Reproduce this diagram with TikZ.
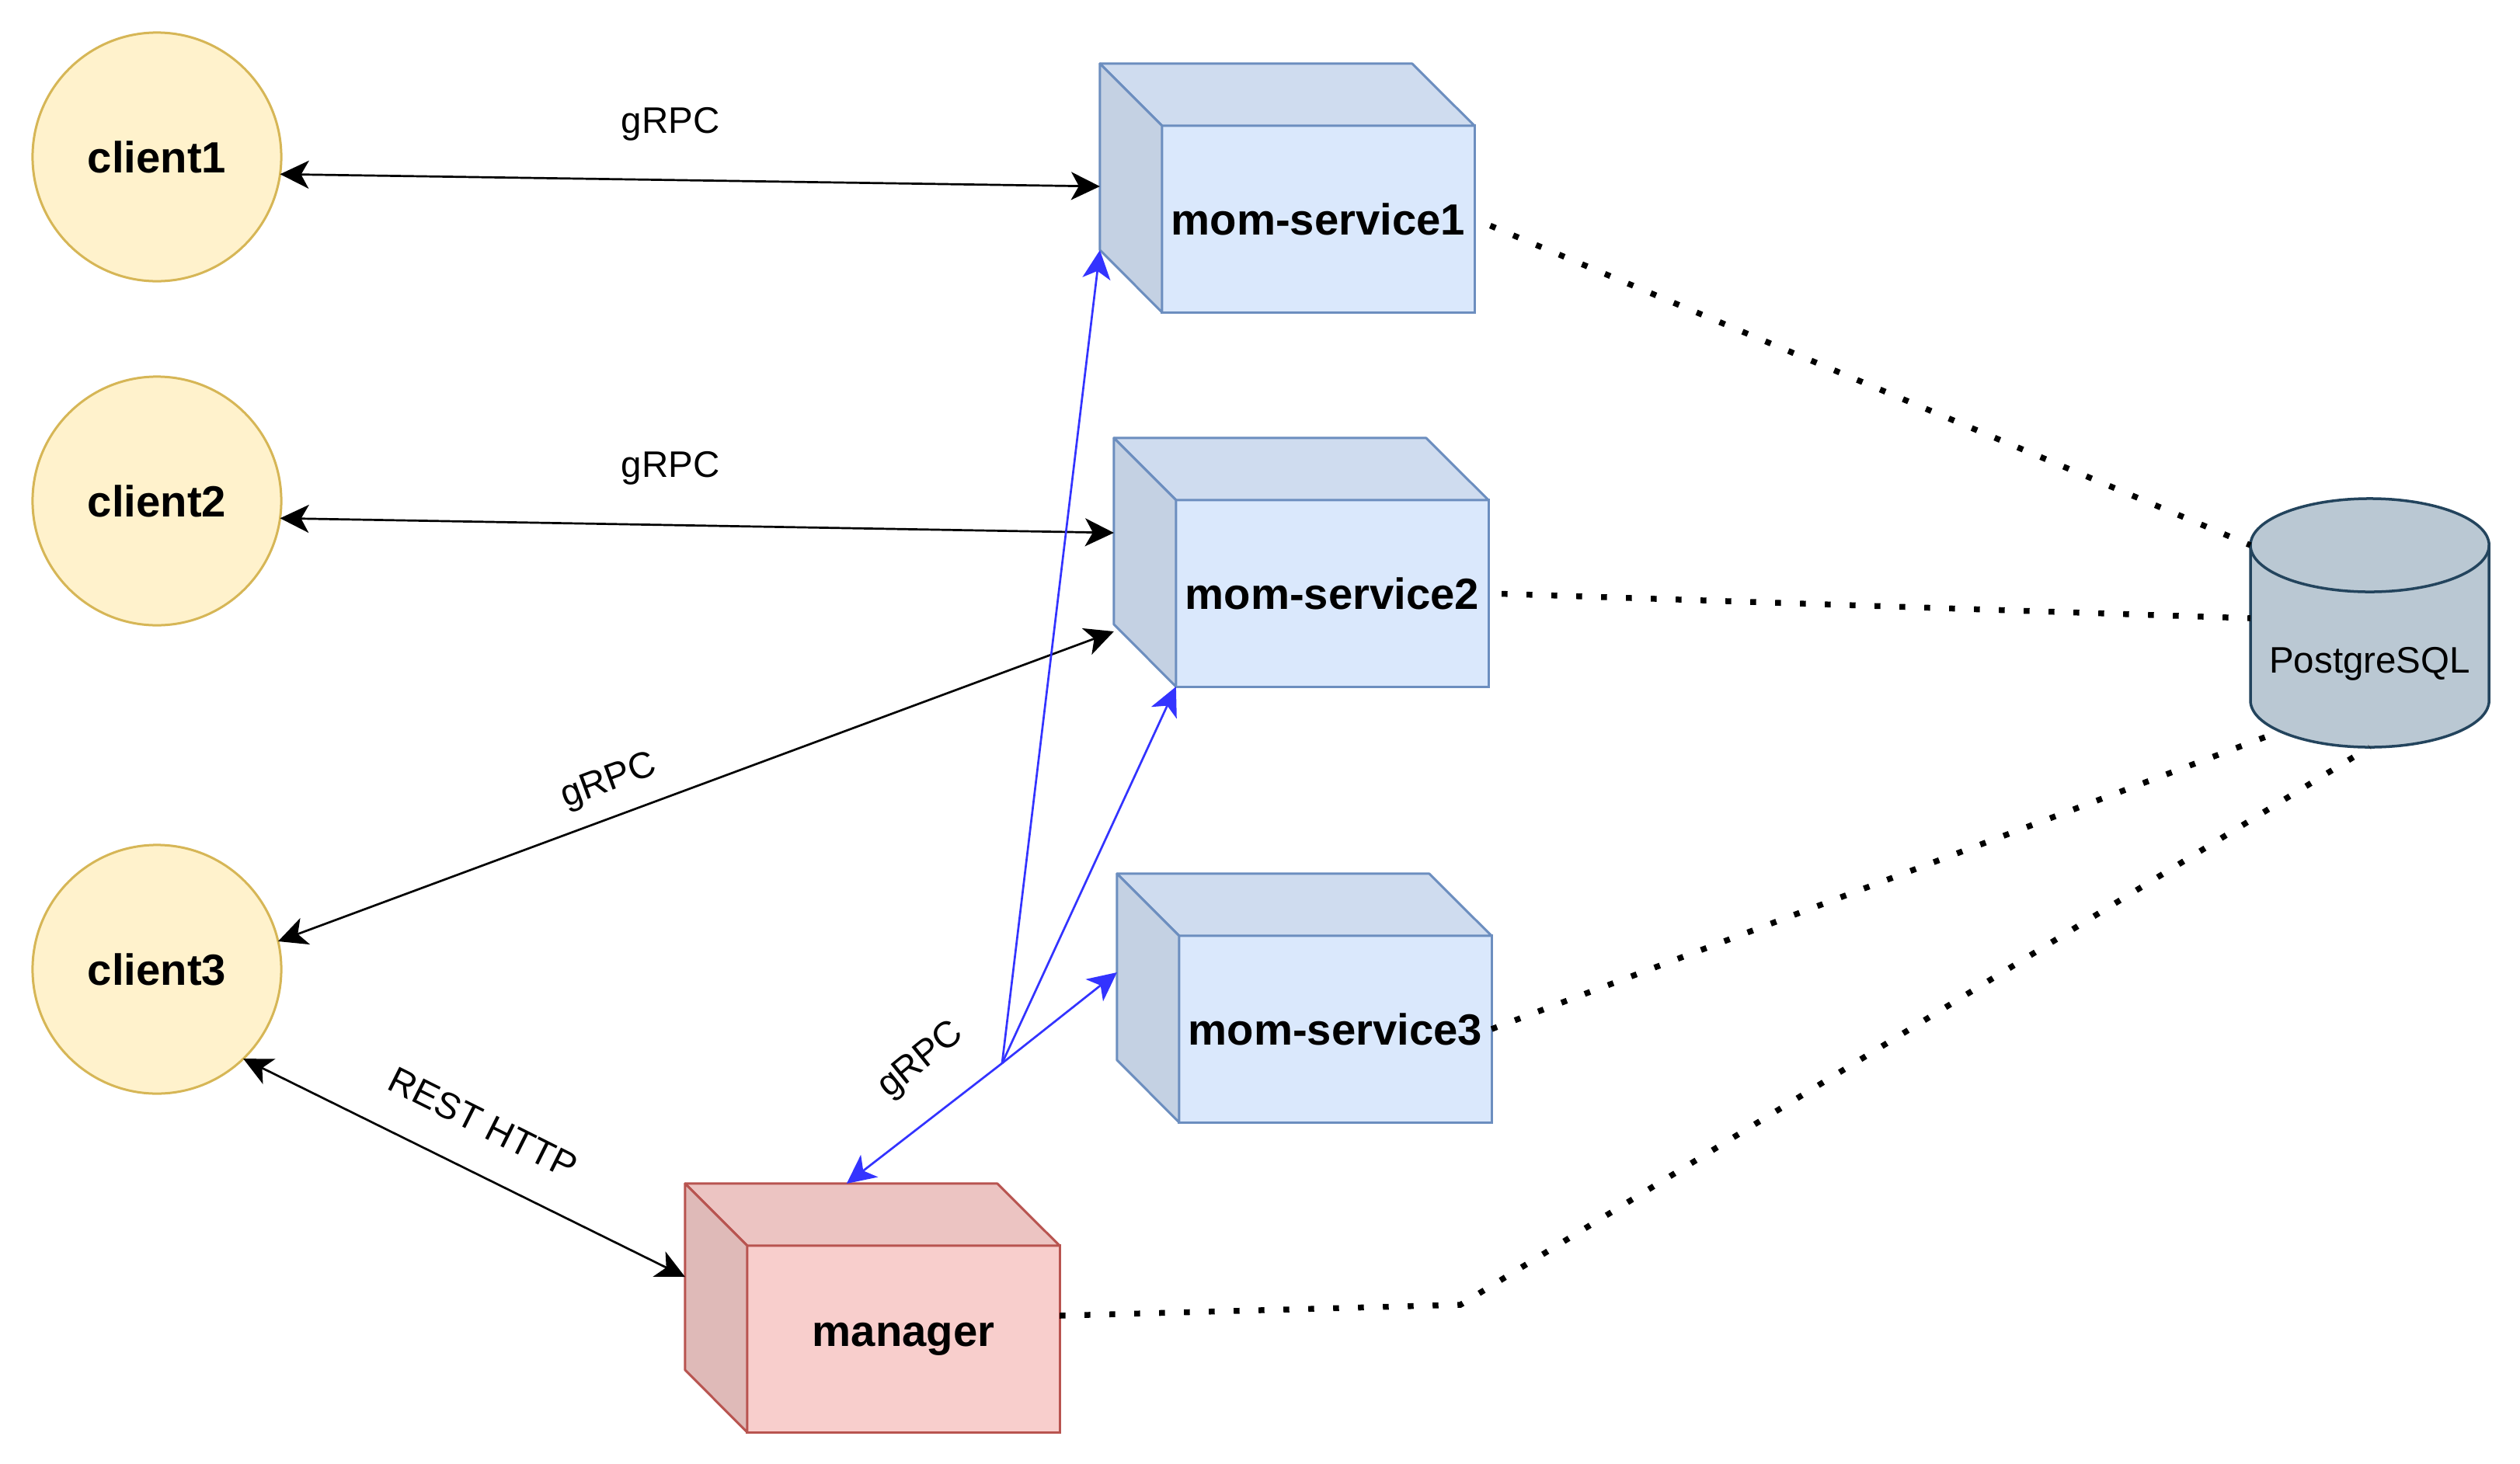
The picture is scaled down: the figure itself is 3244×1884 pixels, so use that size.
\documentclass[tikz,border=0pt]{standalone}
\usepackage{fontspec}
\setmainfont{Liberation Sans}
\usetikzlibrary{arrows.meta,calc}
\definecolor{clfill}{HTML}{FFF2CC}
\definecolor{cldraw}{HTML}{D6B656}
\definecolor{msfront}{HTML}{DAE8FC}
\definecolor{mstop}{HTML}{CFDCEF}
\definecolor{msside}{HTML}{C4D1E3}
\definecolor{msdraw}{HTML}{6C8EBF}
\definecolor{mgfront}{HTML}{F8CECC}
\definecolor{mgtop}{HTML}{ECC4C2}
\definecolor{mgside}{HTML}{DFBAB8}
\definecolor{mgdraw}{HTML}{B85450}
\definecolor{dbfill}{HTML}{BAC8D3}
\definecolor{dbdraw}{HTML}{23445D}
\definecolor{rpcblue}{HTML}{3333FF}
\tikzset{
  client/.style={circle, draw=cldraw, fill=clfill, line width=0.03cm, minimum size=3.2cm, inner sep=0pt, outer sep=0pt, font=\bfseries\fontsize{16pt}{19pt}\selectfont},
  cubeface/.style={rectangle, line width=0.03cm, minimum width=4.02cm, minimum height=2.4cm, inner sep=0pt, outer sep=0pt, font=\bfseries\fontsize{16pt}{19pt}\selectfont},
  tip/.tip={Stealth[length=0.37cm,width=0.36cm,inset=0.1cm]},
  biarrow/.style={tip-tip, line width=0.027cm, black},
  bluearrow/.style={-tip, line width=0.027cm, rpcblue},
  edgelabel/.style={font=\fontsize{13.5pt}{16pt}\selectfont, inner sep=0pt},
  dotline/.style={line width=0.075cm, dash pattern=on 0.075cm off 0.245cm, black},
}
\newcommand\mycube[7]{%
  \node[cubeface, draw=#7, fill=#4] (#1) at (#2) {#3};
  \filldraw[draw=#7, fill=#5, line width=0.03cm, line join=round] (#1.north west) -- ++(-80,-80) -- ++(402,0) -- (#1.north east) -- cycle;
  \filldraw[draw=#7, fill=#6, line width=0.03cm, line join=round] (#1.north west) -- ++(-80,-80) -- ++(0,240) -- (#1.south west) -- cycle;
}
\begin{document}
\begin{tikzpicture}[x=0.01cm, y=-0.01cm]
\useasboundingbox (0,0) rectangle (3244,1884);

% clients
\node[client] (client1) at (202,202) {client1};
\node[client] (client2) at (202,645) {client2};
\node[client] (client3) at (202,1248) {client3};

% services
\mycube{ms1}{1697,282}{mom-service1}{msfront}{mstop}{msside}{msdraw}
\mycube{ms2}{1715,764}{mom-service2}{msfront}{mstop}{msside}{msdraw}
\mycube{ms3}{1719,1325}{mom-service3}{msfront}{mstop}{msside}{msdraw}
\mycube{manager}{1163,1724}{manager}{mgfront}{mgtop}{mgside}{mgdraw}

% database
\coordinate (pgc) at (3050.5,702);
\filldraw[draw=dbdraw, fill=dbfill, line width=0.035cm]
  ($(pgc)+(-153.5,0)$) -- ++(0,200)
  arc[start angle=180, end angle=360, x radius=1.535cm, y radius=0.6cm]
  -- ++(0,-200)
  arc[start angle=0, end angle=180, x radius=1.535cm, y radius=0.6cm] -- cycle;
\draw[draw=dbdraw, line width=0.035cm]
  ($(pgc)+(-153.5,0)$) arc[start angle=180, end angle=360, x radius=1.535cm, y radius=0.6cm];
\node[font=\fontsize{13.5pt}{16pt}\selectfont, inner sep=0pt] (pg) at (3050.5,855) {PostgreSQL};

% gRPC client connections
\draw[biarrow] (client1.-8) -- ($(ms1.west)+(-80,-42)$);
\node[edgelabel] (l1) at (863,160) {gRPC};
\draw[biarrow] (client2.-8) -- ($(ms2.west)+(-80,-78)$);
\node[edgelabel] (l2) at (863,603) {gRPC};
\draw[biarrow] (client3.13) -- ($(ms2.west)+(-80,49)$);
\node[edgelabel, rotate=20.3] (l3) at (784,1007) {gRPC};

% REST
\draw[biarrow] (client3.-46) -- ($(manager.west)+(-80,-80)$);
\node[edgelabel, rotate=-26.6] (l4) at (622,1446) {REST HTTP};

% manager gRPC fan
\coordinate (J) at (1290,1369);
\draw[bluearrow] (J) -- ($(ms1.south west)+(-80,-80)$);
\draw[bluearrow] (J) -- (ms2.south west);
\draw[bluearrow] (J) -- ($(ms3.west)+(-80,-73)$);
\draw[bluearrow] (J) -- ($(manager.north west)+(128,-80)$);
\node[edgelabel, rotate=39] (l5) at (1186,1366) {gRPC};

% database links
\draw[dotline, dash phase=0.1cm] (ms1.east) -- ($(pgc)+(-153.5,0)$);
\draw[dotline, dash phase=0.15cm] (ms2.east) -- ($(pgc)+(-153.5,94)$);
\draw[dotline] (ms3.east) -- ($(pgc)+(-116,240)$);
\draw[dotline] ($(manager.east)+(0,-30)$) -- (1880,1680) -- ($(pgc)+(0,260)$);
\end{tikzpicture}
\end{document}
